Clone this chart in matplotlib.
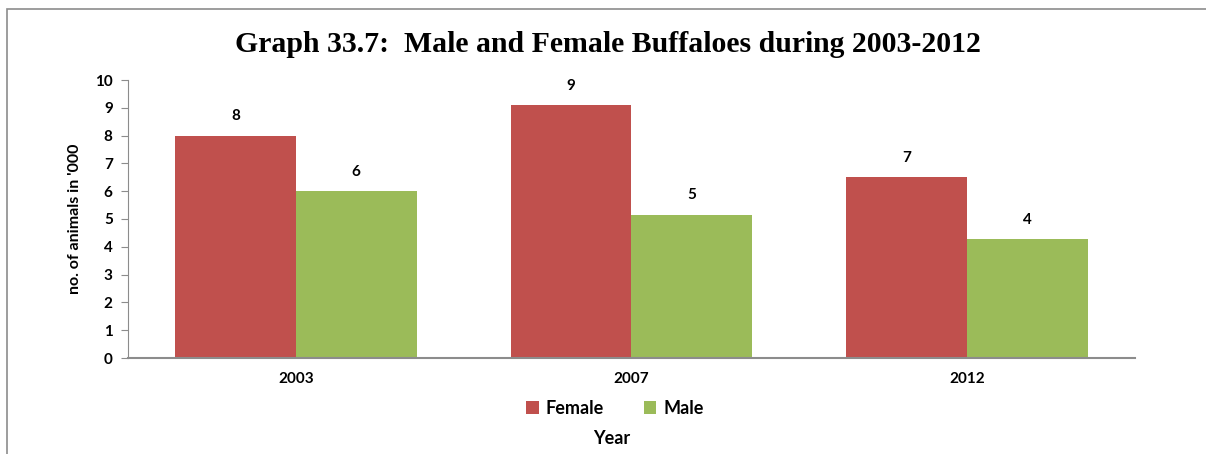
import numpy as np
import matplotlib.pyplot as plt
from matplotlib.patches import Rectangle

years = ["2003", "2007", "2012"]
female = [8.0, 9.1, 6.5]
male = [6.0, 5.15, 4.28]
female_labels = ["8", "9", "7"]
male_labels = ["6", "5", "4"]

red = "#C0504D"
green = "#9BBB59"
grey = "#8c8c8c"
sans = ["Lato", "DejaVu Sans"]

fig = plt.figure(figsize=(12.06, 4.54), dpi=100)

# outer frame of the chart area
fig.add_artist(Rectangle((7 / 1206, -0.5), 1.5, 1.5 - 9 / 454, transform=fig.transFigure,
                         fill=False, edgecolor=grey, linewidth=1.2))

ax = fig.add_axes([128 / 1206, 1 - 358 / 454, (1135 - 128) / 1206, (358 - 80) / 454])

x = np.arange(len(years))
w = 0.36
ax.bar(x - w / 2, female, w, color=red, label="Female")
ax.bar(x + w / 2, male, w, color=green, label="Male")

for i in range(len(years)):
    ax.annotate(female_labels[i], (x[i] - w / 2, female[i]), xytext=(0, 14),
                textcoords="offset points", ha="center", va="center",
                fontsize=11, fontweight="bold", family=sans)
    ax.annotate(male_labels[i], (x[i] + w / 2, male[i]), xytext=(0, 14),
                textcoords="offset points", ha="center", va="center",
                fontsize=11, fontweight="bold", family=sans)

ax.set_xlim(-0.5, 2.5)
ax.set_ylim(0, 10)
ax.set_yticks(range(0, 11))
ax.set_xticks(x)
ax.set_xticklabels(years)
for lab in ax.get_xticklabels() + ax.get_yticklabels():
    lab.set_fontsize(11)
    lab.set_fontweight("bold")
    lab.set_family(sans)

ax.spines["top"].set_visible(False)
ax.spines["right"].set_visible(False)
ax.spines["left"].set_color(grey)
ax.spines["bottom"].set_color(grey)
ax.spines["bottom"].set_linewidth(1.5)
ax.tick_params(axis="y", direction="out", length=5, color=grey, pad=6)
ax.tick_params(axis="x", length=0, pad=10)

ax.set_ylabel("no. of animals in '000", fontsize=11.5, fontweight="bold", family=sans, labelpad=9)

fig.text(0.5045, 1 - 44 / 454, "Graph 33.7:  Male and Female Buffaloes during 2003-2012",
         ha="center", va="center", fontsize=21.4, fontweight="bold", family=["Liberation Serif", "DejaVu Serif"])

leg = fig.legend(loc="center", bbox_to_anchor=(615 / 1206, 1 - 408 / 454), ncol=2, frameon=False,
                 prop={"family": sans, "weight": "bold", "size": 13}, handlelength=0.7,
                 handleheight=0.7, columnspacing=2.2, handletextpad=0.4)

fig.text(612 / 1206, 1 - 438 / 454, "Year", ha="center", va="center",
         fontsize=13, fontweight="bold", family=sans)

fig.savefig("out.png", dpi=100)
